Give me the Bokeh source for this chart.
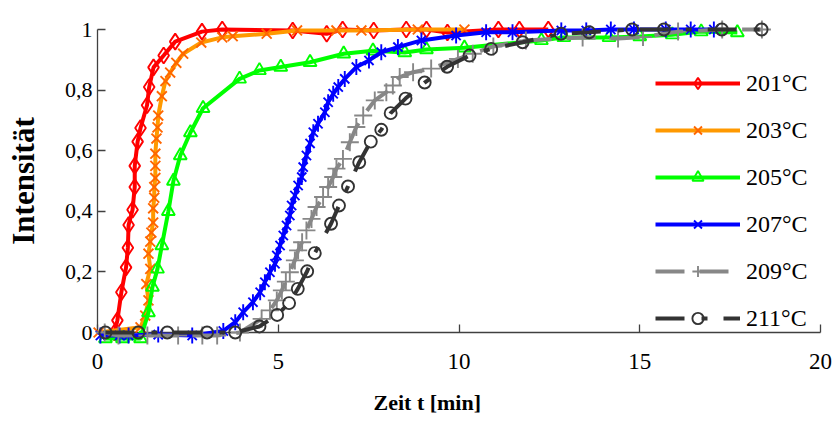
from bokeh.plotting import figure
from bokeh.models import (Range1d, Legend, LegendItem, CustomJSTickFormatter,
                          FixedTicker, Title)
from bokeh.embed import file_html
from bokeh.resources import INLINE

# ---------------- data ----------------
labels = ["201°C", "203°C", "205°C", "207°C", "209°C", "211°C"]

t201 = [0.47, 0.55, 0.66, 0.79, 0.84, 0.86, 0.97, 1.03, 1.03, 1.11,
        1.19, 1.37, 1.43, 1.55, 1.83, 2.15, 2.89, 3.45, 5.40, 6.34,
        6.78, 7.64, 8.54, 9.10, 9.68, 11.09, 11.67, 12.47]
i201 = [0.0, 0.04, 0.133, 0.215, 0.28, 0.355, 0.405, 0.48, 0.55, 0.63,
        0.675, 0.75, 0.81, 0.875, 0.914, 0.96, 0.993, 1.0, 0.997, 0.986,
        1.0, 0.997, 1.0, 1.0, 0.99, 1.0, 1.0, 1.0]

t203 = [0.03, 1.19, 1.32, 1.41, 1.35, 1.46, 1.41, 1.46, 1.49, 1.54,
        1.54, 1.57, 1.57, 1.60, 1.60, 1.60, 1.63, 1.66, 1.68, 1.78,
        1.88, 2.01, 2.18, 2.37, 2.87, 3.45, 3.74, 4.68, 5.52, 6.61,
        7.30, 8.86, 10.15]
i203 = [0.0, 0.017, 0.056, 0.106, 0.16, 0.21, 0.26, 0.30, 0.33, 0.363,
        0.41, 0.445, 0.48, 0.51, 0.55, 0.59, 0.64, 0.677, 0.716, 0.78,
        0.83, 0.858, 0.89, 0.92, 0.957, 0.974, 0.978, 0.986, 0.997, 0.997,
        0.997, 1.0, 1.0]

t205 = [0.22, 0.69, 1.19, 1.41, 1.52, 1.66, 1.78, 1.96, 2.10, 2.29,
        2.57, 2.92, 3.93, 4.48, 5.07, 5.88, 6.81, 7.62, 8.50, 9.10,
        10.15, 12.28, 12.90, 14.15, 15.00, 15.90, 16.70, 17.70]
i205 = [-0.02, -0.02, -0.02, 0.066, 0.15, 0.21, 0.287, 0.40, 0.50, 0.584,
        0.66, 0.74, 0.837, 0.865, 0.876, 0.892, 0.92, 0.93, 0.924, 0.934,
        0.94, 0.964, 0.974, 0.974, 0.977, 0.983, 0.993, 0.99]

t207 = [0.08, 0.61, 0.86, 1.68, 2.62, 3.48, 3.81, 4.03, 4.30, 4.50,
        4.63, 4.77, 4.91, 4.96, 5.05, 5.14, 5.23, 5.32, 5.37, 5.46,
        5.55, 5.65, 5.69, 5.78, 5.88, 5.97, 6.10, 6.29, 6.38, 6.52,
        6.66, 6.84, 7.16, 7.51, 7.85, 8.31, 8.96, 9.92, 10.75, 11.48,
        12.83, 13.52, 14.20, 14.84, 15.72, 16.41, 17.05]
i207 = [-0.01, -0.01, -0.01, -0.007, -0.01, 0.005, 0.034, 0.067, 0.10, 0.133,
        0.166, 0.199, 0.227, 0.254, 0.287, 0.32, 0.353, 0.386, 0.419, 0.452,
        0.485, 0.513, 0.546, 0.584, 0.624, 0.661, 0.689, 0.727, 0.76, 0.788,
        0.81, 0.837, 0.876, 0.898, 0.925, 0.942, 0.964, 0.98, 0.991, 0.991,
        0.997, 0.997, 1.0, 1.0, 1.0, 1.0, 1.0]

t209 = [0.20, 0.58, 1.38, 2.23, 2.90, 3.31, 3.94, 4.54, 4.77, 4.96,
        5.10, 5.21, 5.32, 5.46, 5.55, 5.66, 5.78, 5.92, 6.06, 6.24,
        6.38, 6.52, 6.61, 6.79, 6.98, 7.16, 7.35, 7.67, 7.99, 8.17,
        8.36, 8.73, 9.23, 9.97, 10.38, 10.95, 11.85, 13.42, 14.40, 15.09,
        16.06, 17.28, 18.38]
i209 = [0.0, -0.01, -0.01, -0.01, -0.01, -0.01, 0.0, 0.045, 0.073, 0.106,
        0.139, 0.168, 0.199, 0.238, 0.271, 0.298, 0.337, 0.375, 0.414, 0.447,
        0.48, 0.513, 0.541, 0.573, 0.628, 0.678, 0.716, 0.766, 0.793, 0.815,
        0.843, 0.859, 0.871, 0.903, 0.92, 0.944, 0.964, 0.974, 0.97, 0.975,
        0.993, 1.0, 1.0]

t211 = [0.22, 1.13, 1.93, 3.03, 3.81, 4.48, 4.97, 5.30, 5.54, 5.80,
        6.01, 6.46, 6.68, 6.93, 7.24, 7.56, 7.85, 8.11, 8.52, 9.05,
        9.67, 10.29, 10.89, 11.76, 12.82, 13.60, 14.79, 15.67, 17.27, 18.37]
i211 = [0.0, 0.0, 0.0, 0.0, 0.0, 0.02, 0.058, 0.097, 0.144, 0.202,
        0.262, 0.359, 0.419, 0.482, 0.562, 0.63, 0.669, 0.724, 0.772, 0.825,
        0.877, 0.914, 0.936, 0.958, 0.986, 0.991, 1.0, 1.0, 1.0, 1.0]

x_ticks = [0, 5, 10, 15, 20]
y_ticks = [0, 0.2, 0.4, 0.6, 0.8, 1]
x_title = "Zeit t [min]"
y_title = "Intensität"

# ---------------- figure ----------------
FONT = "Liberation Serif"
p = figure(width=834, height=430, output_backend="svg", toolbar_location=None,
           x_range=Range1d(0, 20), y_range=Range1d(0, 1),
           min_border_left=97, min_border_right=14, min_border_top=29,
           min_border_bottom=98)
p.grid.visible = False
p.outline_line_color = None
p.background_fill_color = "white"
p.border_fill_color = "white"

for ax in (p.xaxis[0], p.yaxis[0]):
    ax.axis_line_color = "#404040"
    ax.axis_line_width = 1.3
    ax.major_tick_line_color = "#404040"
    ax.major_tick_line_width = 1.3
    ax.major_tick_in = 8
    ax.major_tick_out = 0
    ax.minor_tick_line_color = None
    ax.major_label_text_font = FONT
    ax.major_label_text_color = "black"
    ax.axis_label_text_font = FONT
    ax.axis_label_text_font_style = "bold"
    ax.axis_label_text_color = "black"

p.xaxis.ticker = FixedTicker(ticks=x_ticks)
p.xaxis.major_label_text_font_size = "23px"
p.xaxis.major_label_standoff = 21

p.yaxis.ticker = FixedTicker(ticks=y_ticks)
p.yaxis.formatter = CustomJSTickFormatter(code="return String(tick).replace('.', ',');")
p.yaxis.major_label_text_font_size = "22px"
p.yaxis.major_label_standoff = 5
p.yaxis.axis_label = y_title
p.yaxis.axis_label_text_font_size = "31px"
p.yaxis.axis_label_standoff = 21

p.add_layout(Title(text=x_title, align="left", offset=276, standoff=32,
                   text_font=FONT, text_font_size="22px",
                   text_font_style="bold", text_color="black"), "below")

# ---------------- series ----------------
items = []

def add(label, t, y, color, dash, marks):
    rs = [p.line(t, y, line_color=color[0], line_width=4, line_dash=dash,
                 level="overlay")]
    for m in marks:
        kw = dict(marker=m[0], size=m[1], line_color=color[1], line_width=1.9,
                  fill_alpha=0, level="overlay")
        if len(m) > 2:
            kw["angle"] = m[2]
        rs.append(p.scatter(t, y, **kw))
    items.append(LegendItem(label=label, renderers=rs))

add(labels[0], t201, i201, ("#FF0000", "#FF0000"), "solid", [("diamond", 16)])
add(labels[1], t203, i203, ("#FF9900", "#FF6600"), "solid", [("x", 14)])
add(labels[2], t205, i205, ("#00FF00", "#00FF00"), "solid", [("triangle", 13)])
add(labels[3], t207, i207, ("#0000FF", "#0000FF"), "solid",
    [("x", 13), ("dash", 16, 1.5708)])
add(labels[4], t209, i209, ("#878787", "#878787"), "29 15", [("cross", 18)])
add(labels[5], t211, i211, ("#333333", "#333333"), "29 17 6 16", [("circle", 12)])

legend = Legend(items=items, location=(558, 0), orientation="vertical",
                padding=0, margin=0, spacing=19, glyph_width=85, glyph_height=28,
                label_height=28, label_standoff=6, label_text_font=FONT,
                label_text_font_size="24px", label_text_color="black",
                background_fill_alpha=0, border_line_alpha=0)
p.add_layout(legend)

open("out.html", "w").write(file_html(p, INLINE))
